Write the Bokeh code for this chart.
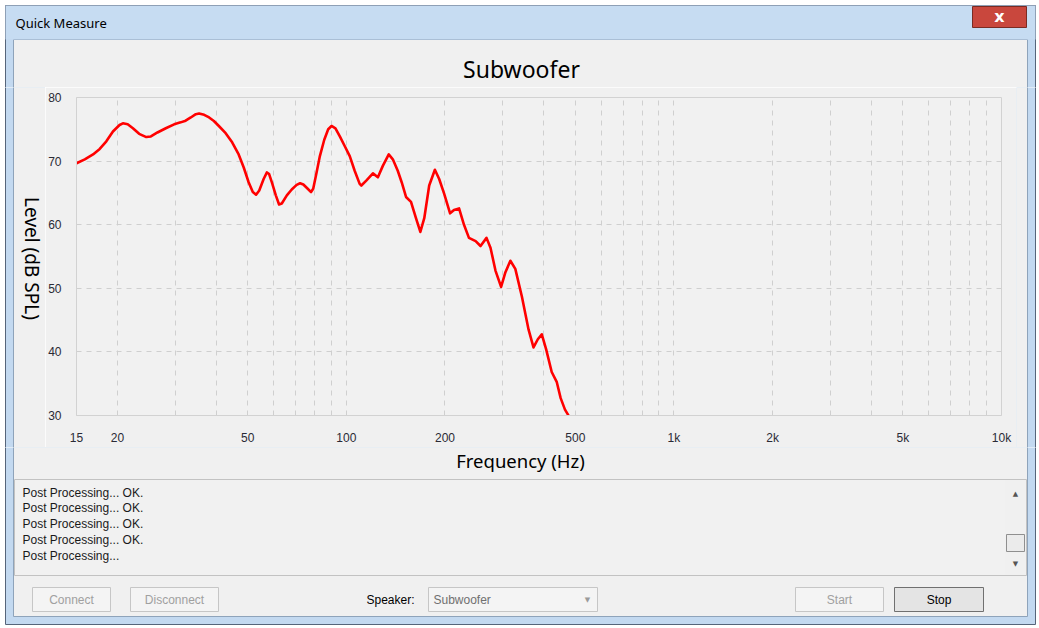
import math
from bokeh.plotting import figure
from bokeh.layouts import column, row
from bokeh.models import FixedTicker, Range1d
from bokeh.core.properties import value
from bokeh.embed import file_html
from bokeh.resources import INLINE

# ---------------- data ----------------
FREQ_HZ = [15.0, 15.9, 16.85, 17.66, 18.5, 19.38, 20.3, 20.78, 21.5, 22.3, 23.3, 24.5, 25.3,
           26.5, 28.1, 29.8, 31.2, 32.3, 33.5, 34.7, 35.5, 36.8, 38.1, 39.4, 40.8, 42.8,
           44.8, 46.9, 48.6, 50.3, 51.8, 53.0, 54.2, 55.9, 57.2, 58.1, 59.2, 60.9, 62.3,
           63.5, 65.8, 68.1, 70.5, 72.2, 73.9, 76.2, 78.0, 79.2, 81.1, 83.0, 85.6, 88.0,
           90.1, 92.6, 95.5, 98.9, 102.4, 106.0, 109.8, 111.1, 115.0, 120.5, 124.8, 129.2,
           134.7, 138.6, 143.5, 147.5, 152.1, 157.5, 163.1, 168.2, 172.9, 179.0, 186.3,
           192.0, 198.8, 207.3, 213.1, 220.8, 228.6, 236.7, 248.1, 256.8, 267.8, 275.4,
           285.2, 296.7, 305.9, 316.7, 327.9, 343.5, 359.8, 372.6, 384.1, 395.0, 407.1,
           423.5, 438.6, 451.0, 464.9, 475.8]
LEVEL_DB = [69.66, 70.28, 71.05, 71.92, 73.11, 74.65, 75.68, 75.94, 75.78, 75.16, 74.29, 73.78,
            73.88, 74.5, 75.16, 75.78, 76.09, 76.35, 76.86, 77.38, 77.48, 77.27, 76.86, 76.3,
            75.52, 74.39, 72.95, 71.05, 68.99, 66.68, 65.13, 64.72, 65.39, 67.19, 68.22, 67.96,
            66.68, 64.62, 63.18, 63.33, 64.62, 65.54, 66.27, 66.52, 66.32, 65.65, 65.13, 65.65,
            68.22, 70.79, 73.36, 75.01, 75.52, 75.16, 73.88, 72.34, 70.79, 68.48, 66.42, 66.16,
            66.93, 68.07, 67.45, 69.25, 71.05, 70.28, 68.48, 66.68, 64.36, 63.59, 61.02, 58.86,
            61.02, 66.16, 68.63, 67.19, 64.88, 61.79, 62.31, 62.56, 59.99, 57.93, 57.42, 56.65,
            57.93, 56.39, 52.79, 50.22, 52.53, 54.33, 53.05, 48.67, 43.53, 40.7, 41.99, 42.76,
            40.44, 36.84, 35.3, 32.73, 30.93, 30.05]

X_TICKS = [15, 20, 50, 100, 200, 500, 1000, 2000, 5000, 10000]
X_TICK_LABELS = ["15", "20", "50", "100", "200", "500", "1k", "2k", "5k", "10k"]
X_MINOR = [30, 40, 60, 70, 80, 90, 300, 400, 600, 700, 800, 900,
           3000, 4000, 6000, 7000, 8000, 9000]
Y_TICKS = [30, 40, 50, 60, 70, 80]

TITLE = "Subwoofer"
X_LABEL = "Frequency (Hz)"
Y_LABEL = "Level (dB SPL)"
WINDOW_TITLE = "Quick Measure"
LOG_LINES = ["Post Processing... OK.", "Post Processing... OK.", "Post Processing... OK.",
             "Post Processing... OK.", "Post Processing..."]
SPEAKER_LABEL = "Speaker:"
SPEAKER_VALUE = "Subwoofer"

# ---------------- layout constants (pixels) ----------------
W, H = 1039, 628
FL, FR, FT, FB = 70, 1001, 97, 421          # plot frame edges
CX0, CX1, CY0, CY1 = 45, 1016, 87, 447      # chart figure box

FONT_UI = "Noto Sans"
FONT_SMALL = "Liberation Sans"


def chrome_fig(x0, x1, y0, y1):
    f = figure(width=x1 - x0, height=y1 - y0,
               x_range=Range1d(x0, x1), y_range=Range1d(y1, y0),
               output_backend="svg", toolbar_location=None,
               x_axis_location=None, y_axis_location=None,
               min_border_left=0, min_border_right=0, min_border_top=0, min_border_bottom=0)
    f.frame_align = False
    f.title.visible = False
    f.xgrid.visible = False
    f.ygrid.visible = False
    f.outline_line_color = None
    f.background_fill_color = "#ffffff"
    f.border_fill_color = "#ffffff"
    # window frame + client area
    f.quad(left=[5], right=[1035], top=[5], bottom=[624],
           fill_color="#c3d9f0", line_color="#56657a", line_width=1)
    f.quad(left=[13], right=[1027], top=[39], bottom=[616],
           fill_color="#f0f0f0", line_color="#8ea3ba", line_width=1)
    return f


def txt(f, x, y, s, size="12px", color="#000000", align="left", font=FONT_SMALL,
        angle=0.0, style="normal"):
    f.text(x=[x], y=[y], text=[s], text_font=value(font), text_font_size=value(size),
           text_color=color, text_align=align, text_baseline="middle",
           angle=angle, text_font_style=style)


def rbox(f, l, t, r, b, fill, line):
    f.quad(left=[l], right=[r], top=[t], bottom=[b], fill_color=fill,
           line_color=line, line_width=1)


# ---------------- top strip ----------------
top = chrome_fig(0, W, 0, CY0)
top.quad(left=[5], right=[1035], top=[5], bottom=[39], fill_color="#c6dcf2", line_color=None)
txt(top, 15, 22, WINDOW_TITLE, size="13px", font=FONT_UI)
rbox(top, 972, 6, 1026, 27, "#c9473d", "#7a2b23")
txt(top, 999, 16, "x", size="16px", color="#ffffff", align="center",
    font="DejaVu Sans", style="bold")
txt(top, 521, 68, TITLE, size="23px", align="center", font=FONT_UI)

# ---------------- left / right strips ----------------
left = chrome_fig(0, CX0, CY0, CY1)
txt(left, 31, 258, Y_LABEL, size="19px", align="center", font=FONT_UI, angle=-math.pi / 2)
right = chrome_fig(CX1, W, CY0, CY1)

# ---------------- chart ----------------
p = figure(width=CX1 - CX0, height=CY1 - CY0, x_axis_type="log",
           x_range=Range1d(15, 10000), y_range=Range1d(30, 80),
           output_backend="svg", toolbar_location=None,
           min_border_left=FL - CX0, min_border_right=CX1 - FR,
           min_border_top=FT - CY0, min_border_bottom=CY1 - FB)
p.frame_align = False
p.title.visible = False
p.background_fill_color = "#f1f1f1"
p.border_fill_color = "#f0f0f0"
p.outline_line_color = "#d2d2d2"
p.outline_line_width = 1

p.xaxis.ticker = FixedTicker(ticks=X_TICKS, minor_ticks=X_MINOR)
p.xaxis.major_label_overrides = {t: l for t, l in zip(X_TICKS, X_TICK_LABELS)}
p.yaxis.ticker = FixedTicker(ticks=Y_TICKS)
for ax in (p.xaxis, p.yaxis):
    ax.axis_line_color = "#d2d2d2"
    ax.major_tick_line_color = None
    ax.minor_tick_line_color = None
    ax.major_label_text_font = FONT_SMALL
    ax.major_label_text_font_size = "12px"
    ax.major_label_text_color = "#2a2a35"
    ax.major_label_standoff = 9
    ax.axis_label = None

p.xgrid.grid_line_color = "#cfcfcf"
p.xgrid.grid_line_dash = "5 5"
p.xgrid.minor_grid_line_color = "#cfcfcf"
p.xgrid.minor_grid_line_dash = "5 5"
p.ygrid.grid_line_color = "#cfcfcf"
p.ygrid.grid_line_dash = "5 5"

p.line(FREQ_HZ, LEVEL_DB, line_color="#ff0000", line_width=2.6,
       line_join="round", line_cap="round")

# ---------------- bottom strip ----------------
bot = chrome_fig(0, W, CY1, H)
txt(bot, 520, 460, X_LABEL, size="18.5px", align="center", font=FONT_UI)
# log panel
rbox(bot, 14, 479, 1026, 575, "#f1f1f1", "#c2c2c2")
for i, s in enumerate(LOG_LINES):
    txt(bot, 22, 492 + i * 15.8, s, size="12px", color="#1a1a1a")
rbox(bot, 1005, 480, 1025, 574, "#f0f0f0", None)
txt(bot, 1015, 493, "▲", size="7px", color="#555555", align="center", font="DejaVu Sans")
txt(bot, 1015, 563, "▼", size="7px", color="#555555", align="center", font="DejaVu Sans")
rbox(bot, 1006, 534, 1024, 551, "#ebebeb", "#8f8f8f")


def button(l, r, label, enabled=False):
    rbox(bot, l, 587, r, 611, "#e4e4e4" if enabled else "#f4f4f4",
         "#707070" if enabled else "#c6c6c6")
    txt(bot, (l + r) / 2, 599, label, size="12px", align="center",
        color="#000000" if enabled else "#a0a0a0")


button(32, 110, "Connect")
button(130, 218, "Disconnect")
button(795, 883, "Start")
button(894, 983, "Stop", enabled=True)
txt(bot, 414, 599, SPEAKER_LABEL, size="12px", align="right")
rbox(bot, 428, 587, 597, 611, "#f4f4f4", "#c6c6c6")
txt(bot, 433, 599, SPEAKER_VALUE, size="12px", color="#707070")
txt(bot, 587, 599, "▼", size="7px", color="#9a9a9a", align="center", font="DejaVu Sans")

layout = column(top, row(left, p, right, spacing=0), bot, spacing=0)
open("out.html", "w").write(file_html(layout, INLINE))
